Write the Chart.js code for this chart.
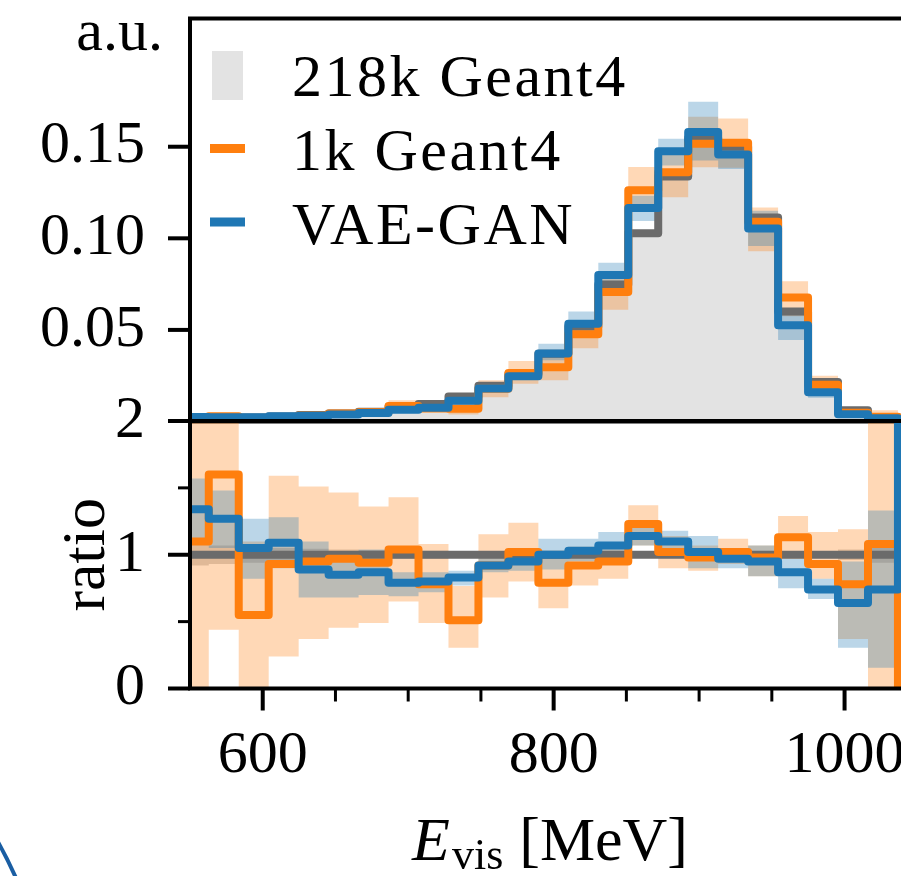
<!DOCTYPE html>
<html>
<head>
<meta charset="utf-8">
<script src="https://cdn.jsdelivr.net/npm/chart.js@4.4.1/dist/chart.umd.min.js"></script>
<style>
  html, body { margin: 0; padding: 0; background: #fff; overflow: hidden; }
  #wrap { position: relative; width: 901px; height: 876px; }
  #wrap canvas { position: absolute; left: 0; top: 0; }
</style>
</head>
<body>
<div id="wrap">
  <canvas id="histCanvas" width="901" height="876"></canvas>
  <canvas id="ratioCanvas" width="901" height="876"></canvas>
</div>
<script>
// ---- binning (MeV) ----
const binEdges = [542.3, 562.9, 583.5, 604.1, 624.7, 645.3, 665.9, 686.5, 707.1, 727.7,
                  748.3, 768.9, 789.5, 810.1, 830.7, 851.3, 871.9, 892.5, 913.1, 933.7,
                  954.3, 974.9, 995.5, 1016.1, 1036.7, 1057.3];

// ---- normalised histograms (a.u.) ----
const refHist = [0.0018, 0.0018, 0.0022, 0.0027, 0.0035, 0.0044, 0.0053, 0.0081, 0.0095, 0.0137,
                 0.0195, 0.0259, 0.0370, 0.0518, 0.0748, 0.1027, 0.1338, 0.1547, 0.1500, 0.1113,
                 0.0600, 0.0215, 0.0062, 0.0024, 0.0004];
const g4Hist  = [0.0020, 0.0029, 0.0012, 0.0025, 0.0033, 0.0043, 0.0050, 0.0084, 0.0073, 0.0070,
                 0.0179, 0.0265, 0.0296, 0.0476, 0.0707, 0.1262, 0.1360, 0.1516, 0.1522, 0.1090,
                 0.0677, 0.0201, 0.0048, 0.0026, 0.0000];
const g4Lo    = [0.0000, 0.0008, 0.0000, 0.0007, 0.0013, 0.0020, 0.0026, 0.0053, 0.0046, 0.0038,
                 0.0133, 0.0206, 0.0225, 0.0400, 0.0610, 0.1150, 0.1224, 0.1388, 0.1385, 0.0930,
                 0.0575, 0.0170, 0.0023, 0.0000, 0.0000];
const g4Hi    = [0.0043, 0.0047, 0.0024, 0.0043, 0.0053, 0.0065, 0.0073, 0.0116, 0.0102, 0.0105,
                 0.0225, 0.0330, 0.0370, 0.0552, 0.0805, 0.1389, 0.1485, 0.1663, 0.1654, 0.1168,
                 0.0765, 0.0250, 0.0074, 0.0062, 0.0008];
const vaeHist = [0.0024, 0.0023, 0.0023, 0.0029, 0.0031, 0.0038, 0.0046, 0.0064, 0.0075, 0.0113,
                 0.0180, 0.0247, 0.0371, 0.0533, 0.0800, 0.1165, 0.1475, 0.1580, 0.1457, 0.1053,
                 0.0526, 0.0160, 0.0040, 0.0018, 0.0012];
const vaeLo   = [0.0020, 0.0019, 0.0018, 0.0024, 0.0024, 0.0030, 0.0037, 0.0056, 0.0068, 0.0105,
                 0.0170, 0.0232, 0.0335, 0.0470, 0.0735, 0.1095, 0.1397, 0.1425, 0.1379, 0.0958,
                 0.0445, 0.0130, 0.0020, 0.0005, 0.0006];
const vaeHi   = [0.0028, 0.0027, 0.0028, 0.0035, 0.0039, 0.0045, 0.0055, 0.0071, 0.0082, 0.0121,
                 0.0191, 0.0266, 0.0425, 0.0600, 0.0866, 0.1232, 0.1544, 0.1746, 0.1540, 0.1150,
                 0.0610, 0.0195, 0.0060, 0.0032, 0.0018];

// ---- ratios to the 218k reference ----
const ratioRef   = [1, 1, 1, 1, 1, 1, 1, 1, 1, 1, 1, 1, 1, 1, 1, 1, 1, 1, 1, 1, 1, 1, 1, 1, 1];
const ratioRefLo = [0.92, 0.93, 0.94, 0.95, 0.955, 0.96, 0.965, 0.97, 0.97, 0.975, 0.98, 0.98, 0.985,
                    0.985, 0.99, 0.99, 0.99, 0.99, 0.99, 0.99, 0.985, 0.98, 0.96, 0.94, 0.85];
const ratioRefHi = [1.08, 1.07, 1.06, 1.05, 1.045, 1.04, 1.035, 1.03, 1.03, 1.025, 1.02, 1.02, 1.015,
                    1.015, 1.01, 1.01, 1.01, 1.01, 1.01, 1.01, 1.015, 1.02, 1.04, 1.06, 1.15];
const ratioG4    = [1.10, 1.60, 0.55, 0.93, 0.95, 0.97, 0.94, 1.04, 0.78, 0.51, 0.92, 1.02, 0.79,
                    0.92, 0.95, 1.23, 1.02, 0.98, 1.02, 0.98, 1.13, 0.93, 0.78, 1.08, 0.00];
const ratioG4Lo  = [-0.30, 0.44, -0.05, 0.24, 0.37, 0.455, 0.49, 0.65, 0.49, 0.305, 0.68, 0.80, 0.60,
                    0.77, 0.82, 1.07, 0.90, 0.88, 0.93, 0.84, 0.97, 0.82, 0.37, -0.50, 0.00];
const ratioG4Hi  = [2.50, 2.60, 1.10, 1.59, 1.51, 1.466, 1.36, 1.43, 1.08, 0.766, 1.154, 1.24, 1.00,
                    1.06, 1.08, 1.37, 1.14, 1.07, 1.12, 1.07, 1.29, 1.17, 1.19, 2.60, 0.00];
const ratioVae   = [1.34, 1.27, 1.05, 1.09, 0.89, 0.85, 0.87, 0.79, 0.80, 0.83, 0.92, 0.95, 1.00,
                    1.03, 1.07, 1.14, 1.10, 1.02, 0.97, 0.95, 0.87, 0.74, 0.64, 0.74, 3.00];
const ratioVaeLo = [1.10, 1.05, 0.82, 0.90, 0.68, 0.68, 0.70, 0.69, 0.72, 0.77, 0.87, 0.88, 0.89,
                    0.95, 0.99, 1.07, 1.02, 0.90, 0.90, 0.84, 0.75, 0.67, 0.305, 0.155, 2.20];
const ratioVaeHi = [1.57, 1.48, 1.27, 1.28, 1.10, 1.02, 1.04, 0.87, 0.87, 0.88, 0.98, 1.03, 1.12,
                    1.12, 1.17, 1.20, 1.18, 1.14, 1.05, 1.07, 0.97, 0.82, 0.95, 1.33, 4.00];

// ---- axes ----
const xRange = [550, 1038.8];
const xMajorTicks = [600, 800, 1000];
const xMinorTicks = [650, 700, 750, 850, 900, 950];
const histTicks = [0.05, 0.10, 0.15];
const histRange = [0, 0.22];
const ratioTicks = [0, 1, 2];
const ratioMinorTicks = [0.5, 1.5];
const ratioRange = [0, 2];
const seriesNames = ['218k Geant4', '1k Geant4', 'VAE-GAN'];

// ---- styling ----
const SERIF = "'Liberation Serif', 'Times New Roman', serif";
const C_ORANGE = '#ff7f0e', C_BLUE = '#1f77b4', C_REF = '#6b6b6b', C_FILL = '#e3e3e3';
const A_ORANGE = 'rgba(255,127,14,0.3)', A_BLUE = 'rgba(31,119,180,0.3)', A_REF = 'rgba(105,105,105,0.3)';
const NONE = 'rgba(0,0,0,0)';
const STEP = 'before';   // horizontal run from each edge to the next, then the jump

Chart.defaults.font.family = SERIF;
Chart.defaults.font.size = 60;
Chart.defaults.color = '#000';

// histogram values -> step points on the bin edges (last edge repeats the last bin)
function steps(vals) {
  return binEdges.map((e, i) => ({ x: e, y: i < vals.length ? vals[i] : vals[vals.length - 1] }));
}
function stepLine(vals, color, order) {
  return { data: steps(vals), borderColor: color, borderWidth: 8, stepped: STEP,
           borderJoinStyle: 'round', pointRadius: 0, fill: false, clip: 0, order };
}
function bandPair(lo, hi, color, order) {
  return [
    { data: steps(lo), borderColor: NONE, borderWidth: 0, stepped: STEP, pointRadius: 0,
      fill: false, clip: 0, order },
    { data: steps(hi), borderColor: NONE, borderWidth: 0, stepped: STEP, pointRadius: 0,
      fill: '-1', backgroundColor: color, clip: 0, order }
  ];
}
// fixed axis thickness, no extra room for overhanging tick labels
function fixWidth(w) {
  return s => { s.width = w; s.paddingTop = 0; s.paddingBottom = 0; s.paddingLeft = 0; s.paddingRight = 0; };
}
function fixHeight(h) {
  return s => { s.height = h; s.paddingTop = 0; s.paddingBottom = 0; s.paddingLeft = 0; s.paddingRight = 0; };
}

function tickMark(ctx, x1, y1, x2, y2, w) {
  ctx.lineWidth = w;
  ctx.beginPath(); ctx.moveTo(x1, y1); ctx.lineTo(x2, y2); ctx.stroke();
}

// spines, tick marks, legend and the "a.u." label of the upper panel
const histDecor = {
  id: 'histDecor',
  afterDatasetsDraw(chart) {
    const { ctx, chartArea: a, scales } = chart;
    ctx.save();
    ctx.strokeStyle = '#000';
    ctx.lineCap = 'butt';
    ctx.lineWidth = 4;
    ctx.beginPath();
    ctx.moveTo(a.left, a.bottom); ctx.lineTo(a.left, a.top - 2);
    ctx.moveTo(a.left - 2, a.top); ctx.lineTo(a.right, a.top);
    ctx.moveTo(a.left - 2, a.bottom); ctx.lineTo(a.right, a.bottom);
    ctx.stroke();
    histTicks.forEach(v => {
      const y = scales.y.getPixelForValue(v);
      tickMark(ctx, a.left - 22, y, a.left, y, 4);
    });
    ctx.restore();
  },
  afterDraw(chart) {
    const { ctx } = chart;
    ctx.save();
    // legend
    ctx.fillStyle = C_FILL;
    ctx.fillRect(212, 51, 31, 49);
    ctx.fillStyle = C_ORANGE;
    ctx.fillRect(210, 144, 35, 9);
    ctx.fillStyle = C_BLUE;
    ctx.fillRect(210, 217.5, 35, 9);
    ctx.fillStyle = '#000';
    ctx.font = '60px ' + SERIF;
    ctx.textAlign = 'left';
    ctx.textBaseline = 'alphabetic';
    ctx.letterSpacing = '2.5px';
    ctx.fillText(seriesNames[0], 292, 96);
    ctx.fillText(seriesNames[1], 292, 170);
    ctx.fillText(seriesNames[2], 292, 244);
    ctx.letterSpacing = '0px';
    // axis unit label
    ctx.textAlign = 'right';
    ctx.fillText('a.u.', 163, 50);
    ctx.restore();
  }
};

// spines, tick marks and axis titles of the ratio panel
const ratioDecor = {
  id: 'ratioDecor',
  afterDatasetsDraw(chart) {
    const { ctx, chartArea: a, scales } = chart;
    ctx.save();
    ctx.strokeStyle = '#000';
    ctx.lineCap = 'butt';
    ctx.lineWidth = 4;
    ctx.beginPath();
    ctx.moveTo(a.left, a.bottom + 2); ctx.lineTo(a.left, a.top);
    ctx.moveTo(a.left - 2, a.top); ctx.lineTo(a.right, a.top);
    ctx.moveTo(a.left - 2, a.bottom); ctx.lineTo(a.right, a.bottom);
    ctx.stroke();
    ratioTicks.forEach(v => {
      const y = scales.y.getPixelForValue(v);
      tickMark(ctx, a.left - 22, y, a.left, y, 4);
    });
    ratioMinorTicks.forEach(v => {
      const y = scales.y.getPixelForValue(v);
      tickMark(ctx, a.left - 12, y, a.left, y, 3);
    });
    xMajorTicks.forEach(v => {
      const x = scales.x.getPixelForValue(v);
      tickMark(ctx, x, a.bottom, x, a.bottom + 22, 4);
    });
    xMinorTicks.forEach(v => {
      const x = scales.x.getPixelForValue(v);
      tickMark(ctx, x, a.bottom, x, a.bottom + 13, 3);
    });
    ctx.restore();
  },
  afterDraw(chart) {
    const { ctx, chartArea: a } = chart;
    ctx.save();
    ctx.fillStyle = '#000';
    ctx.textBaseline = 'alphabetic';
    // y title
    ctx.save();
    ctx.translate(104, (a.top + a.bottom) / 2);
    ctx.rotate(-Math.PI / 2);
    ctx.textAlign = 'center';
    ctx.font = '62px ' + SERIF;
    ctx.fillText('ratio', 0, 0);
    ctx.restore();
    // x title: E_vis [MeV]
    const parts = [
      { t: 'E', f: 'italic 62px ' + SERIF, dy: 0, gap: 2 },
      { t: 'vis', f: '44px ' + SERIF, dy: 9, gap: 16 },
      { t: '[MeV]', f: '62px ' + SERIF, dy: 0, gap: 0 }
    ];
    let total = 0;
    parts.forEach(p => { ctx.font = p.f; p.w = ctx.measureText(p.t).width; total += p.w + p.gap; });
    let x = 550 - total / 2;
    ctx.textAlign = 'left';
    parts.forEach(p => { ctx.font = p.f; ctx.fillText(p.t, x, 860 + p.dy); x += p.w + p.gap; });
    // stroke of a neighbouring figure entering at the lower-left corner
    ctx.strokeStyle = '#1a5ea3';
    ctx.lineWidth = 4;
    ctx.beginPath();
    ctx.moveTo(-2, 842);
    ctx.quadraticCurveTo(7, 858, 16, 878);
    ctx.stroke();
    ctx.restore();
  }
};

const baseOpts = {
  responsive: false,
  animation: false,
  events: [],
  plugins: { legend: { display: false }, tooltip: { enabled: false } }
};

// upper panel: normalised spectra
new Chart(document.getElementById('histCanvas'), {
  type: 'line',
  data: {
    datasets: [
      { data: steps(refHist), borderColor: NONE, borderWidth: 0, stepped: STEP, pointRadius: 0,
        fill: 'origin', backgroundColor: C_FILL, clip: 0, order: 10 },
      ...bandPair(g4Lo, g4Hi, A_ORANGE, 9),
      ...bandPair(vaeLo, vaeHi, A_BLUE, 8),
      stepLine(refHist, C_REF, 3),
      stepLine(g4Hist, C_ORANGE, 2),
      stepLine(vaeHist, C_BLUE, 1)
    ]
  },
  options: {
    ...baseOpts,
    layout: { padding: { top: 18.5, bottom: 454.5, left: 0, right: 0 } },
    scales: {
      x: { type: 'linear', min: xRange[0], max: xRange[1], display: false, afterFit: fixHeight(0) },
      y: {
        type: 'linear', min: histRange[0], max: histRange[1],
        grid: { display: false, drawTicks: false }, border: { display: false },
        afterBuildTicks: s => { s.ticks = histTicks.map(v => ({ value: v })); },
        afterFit: fixWidth(190),
        ticks: { padding: 45, font: { size: 60 }, callback: v => v.toFixed(2) }
      }
    }
  },
  plugins: [histDecor]
});

// lower panel: ratio to the reference
new Chart(document.getElementById('ratioCanvas'), {
  type: 'line',
  data: {
    datasets: [
      ...bandPair(ratioRefLo, ratioRefHi, A_REF, 10),
      ...bandPair(ratioG4Lo, ratioG4Hi, A_ORANGE, 9),
      ...bandPair(ratioVaeLo, ratioVaeHi, A_BLUE, 8),
      stepLine(ratioRef, C_REF, 3),
      stepLine(ratioG4, C_ORANGE, 2),
      stepLine(ratioVae, C_BLUE, 1)
    ]
  },
  options: {
    ...baseOpts,
    layout: { padding: { top: 421, bottom: 0, left: 0, right: 0 } },
    scales: {
      x: {
        type: 'linear', min: xRange[0], max: xRange[1],
        grid: { display: false, drawTicks: false }, border: { display: false },
        afterBuildTicks: s => { s.ticks = xMajorTicks.map(v => ({ value: v })); },
        afterFit: fixHeight(187.5),
        ticks: { padding: 32, maxRotation: 0, font: { size: 60 }, callback: v => String(v) }
      },
      y: {
        type: 'linear', min: ratioRange[0], max: ratioRange[1],
        grid: { display: false, drawTicks: false }, border: { display: false },
        afterBuildTicks: s => { s.ticks = ratioTicks.map(v => ({ value: v })); },
        afterFit: fixWidth(190),
        ticks: { padding: 45, font: { size: 60 }, callback: v => String(v) }
      }
    }
  },
  plugins: [ratioDecor]
});
</script>
</body>
</html>
